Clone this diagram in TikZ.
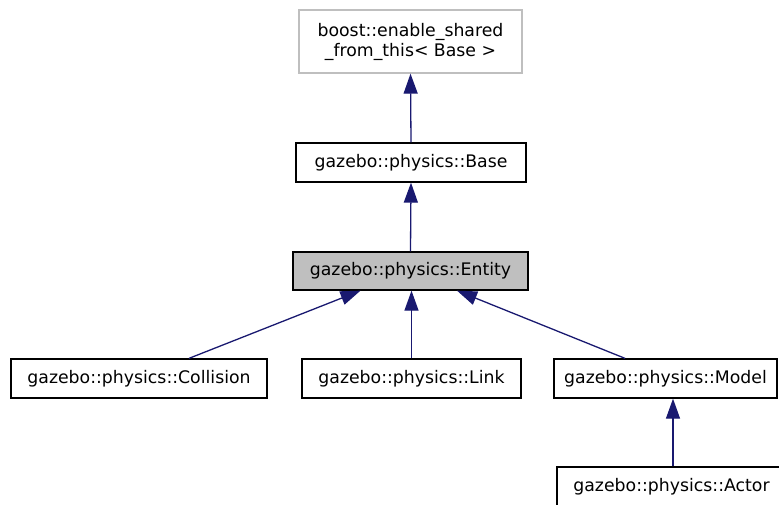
\documentclass[tikz,border=0pt]{standalone}
\usepackage{fontspec}
\setmainfont{DejaVu Sans}
\usetikzlibrary{arrows.meta,calc}
\definecolor{edgeblue}{HTML}{191970}
\definecolor{boxgrey}{HTML}{BFBFBF}
\tikzset{
  cls/.style={draw=black, line width=1.3pt, inner sep=0pt, minimum height=39pt,
    font=\fontsize{17.3}{20}\selectfont, align=center, fill=white},
  inh/.style={draw=edgeblue, line width=1.3pt,
    -{Triangle[length=20pt,width=14pt]}, color=edgeblue}
}
\begin{document}
\begin{tikzpicture}[x=1pt,y=-1pt]
\path[use as bounding box] (0,0) rectangle (779,504);
\clip (0,0) rectangle (779,504);
\node[cls, draw=boxgrey, minimum width=223pt, minimum height=63pt] (boost) at (410.5,41.5)
  {boost::enable\_shared\\\_from\_this\textless{} Base \textgreater{}};
\node[cls, minimum width=230pt] (base) at (411,162.5) {gazebo::physics::Base};
\node[cls, fill=boxgrey, minimum width=235pt, minimum height=38pt] (entity) at (410.5,271) {gazebo::physics::Entity};
\node[cls, minimum width=256pt] (collision) at (139,378.5) {gazebo::physics::Collision};
\node[cls, minimum width=219pt] (link) at (411.5,378.5) {gazebo::physics::Link};
\node[cls, minimum width=223pt] (model) at (665.5,378.5) {gazebo::physics::Model};
\node[cls, minimum width=229pt] (actor) at (671.5,486.5) {gazebo::physics::Actor};

\draw[inh] (base.north) -- (boost.south);
\draw[inh] (entity.north) -- (base.south);
\draw[inh] ($(collision.north)+(50,0)$) -- ($(entity.south)+(-50,0)$);
\draw[inh] (link.north) -- (link.north |- entity.south);
\draw[inh] ($(model.north)+(-40.5,0)$) -- ($(entity.south)+(46.5,0)$);
\draw[inh] ($(actor.north)+(1.5,0)$) -- ($(model.south)+(7.5,0)$);
\end{tikzpicture}
\end{document}
